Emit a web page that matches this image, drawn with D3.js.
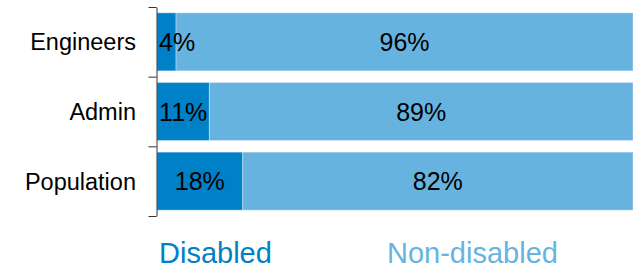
<!DOCTYPE html>
<html>
<head>
<meta charset="utf-8">
<script src="https://cdn.jsdelivr.net/npm/d3@7"></script>
<style>
  body { margin: 0; background: #fff; }
  text { font-family: "Liberation Sans", Arial, sans-serif; }
</style>
</head>
<body>
<div id="chart"></div>
<script>
const categories = ["Engineers", "Admin", "Population"];
const disabled = [4, 11, 18];
const nonDisabled = [96, 89, 82];
const seriesNames = ["Disabled", "Non-disabled"];

const width = 642, height = 271;
const colors = ["#0080c6", "#67b3df"];

const svg = d3.select("#chart").append("svg")
    .attr("width", width)
    .attr("height", height);

// x scale (percent)
const x = d3.scaleLinear().domain([0, 100]).range([157, 633]);

// y band scale
const y = d3.scaleBand()
    .domain(categories)
    .range([7, 216])
    .paddingInner(0.167)
    .paddingOuter(0.0835);

const rows = categories.map((c, i) => ({label: c, disabled: disabled[i], nonDisabled: nonDisabled[i]}));
const stacked = d3.stack().keys(["disabled", "nonDisabled"])(rows);

const groups = svg.append("g")
    .selectAll("g")
    .data(stacked)
    .enter().append("g")
    .attr("fill", (d, i) => colors[i]);

groups.selectAll("rect")
    .data(d => d)
    .enter().append("rect")
    .attr("x", d => x(d[0]))
    .attr("y", d => y(d.data.label))
    .attr("width", d => x(d[1]) - x(d[0]))
    .attr("height", y.bandwidth())
    .attr("stroke", "rgba(255,255,255,0.35)")
    .attr("stroke-width", 1);

// value labels
stacked.forEach(s => {
    s.forEach(d => {
        const x0 = x(d[0]), x1 = x(d[1]);
        const t = svg.append("text")
            .attr("y", y(d.data.label) + y.bandwidth() / 2)
            .attr("dy", "0.36em")
            .attr("font-size", 25)
            .attr("fill", "#000")
            .attr("text-anchor", "start")
            .text((d[1] - d[0]) + "%");
        const w = t.node().getComputedTextLength();
        const start = Math.max((x0 + x1) / 2 - w / 2, x0 + 2);
        t.attr("x", start);
    });
});

// y axis: line with ticks at band boundaries
const yEdge = d3.scaleLinear().domain([0, categories.length]).range([7, 216]);
const axis = svg.append("g")
    .attr("transform", "translate(156.5,0)")
    .call(d3.axisLeft(yEdge).tickValues(d3.range(categories.length + 1)).tickFormat("").tickSize(8).tickSizeOuter(0));
axis.select(".domain").attr("stroke", "#333");
axis.selectAll(".tick line").attr("stroke", "#333");

// category labels
svg.append("g")
    .selectAll("text")
    .data(categories)
    .enter().append("text")
    .attr("x", 136)
    .attr("y", d => y(d) + y.bandwidth() / 2)
    .attr("dy", "0.36em")
    .attr("text-anchor", "end")
    .attr("font-size", 23.5)
    .attr("fill", "#000")
    .text(d => d);

// legend
const legendX = [159, 387];
svg.append("g")
    .selectAll("text")
    .data(seriesNames)
    .enter().append("text")
    .attr("x", (d, i) => legendX[i])
    .attr("y", 263)
    .attr("font-size", 29)
    .attr("fill", (d, i) => colors[i])
    .text(d => d);
</script>
</body>
</html>
